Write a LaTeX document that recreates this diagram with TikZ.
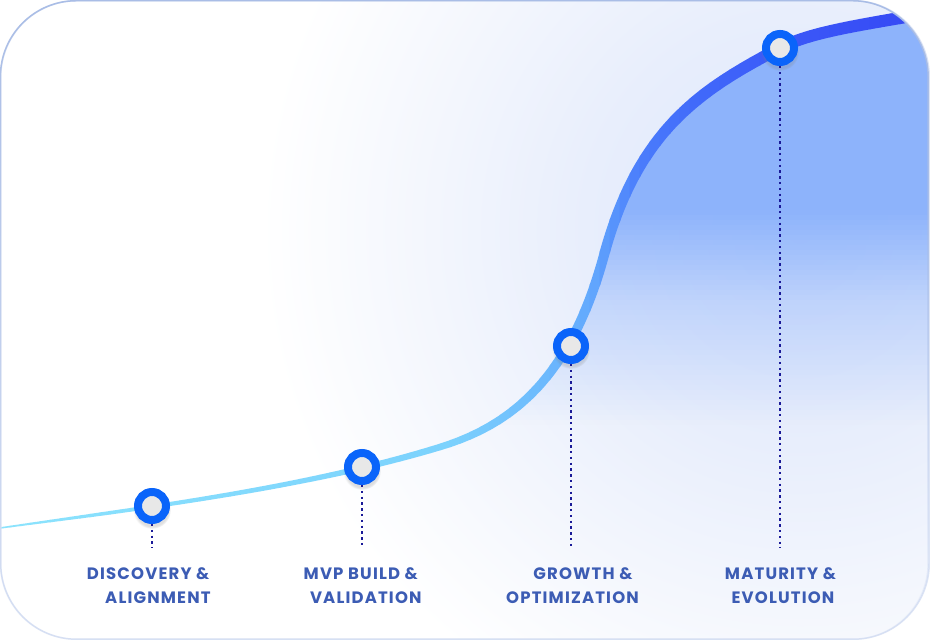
\documentclass[tikz,border=0pt]{standalone}
\usepackage{fontspec}
\setmainfont{Poppins}
\usetikzlibrary{fadings,shadows}

\definecolor{framec}{HTML}{A9BDE6}
\definecolor{framelight}{HTML}{DCE4F5}
\definecolor{glowA}{HTML}{DDE6FC}
\definecolor{glowB}{HTML}{E8EEFC}
\definecolor{glowC}{HTML}{F3F6FD}
\definecolor{fillblue}{HTML}{8DB3FB}
\definecolor{ringblue}{HTML}{0A64FA}
\definecolor{innergray}{HTML}{E8E8E8}
\definecolor{dotnavy}{HTML}{1A1A98}
\definecolor{labelc}{RGB}{60,92,180}

\pgfdeclareradialshading{glowsh}{\pgfpoint{0bp}{0bp}}{color(0bp)=(glowA); color(10bp)=(glowB); color(17bp)=(glowC); color(25bp)=(white); color(50bp)=(white)}

\tikzfading[name=framefade, top color=transparent!0, bottom color=transparent!90]

\def\framepath{(0.75,0.75) rectangle (929.25,639.25)}
\def\curvepath{(-5,111.3) .. controls (120,129) and (300,150) .. (440,193) .. controls (510,214.5) and (570,260) .. (604,385) .. controls (638,510) and (700,550) .. (780,592) .. controls (810,608) and (860,615) .. (935,628)}

\tikzset{
  marker/.style={circle, draw=ringblue, line width=8pt, fill=innergray, minimum size=28pt, inner sep=0pt,
    circular drop shadow={shadow xshift=0pt, shadow yshift=-3pt, shadow scale=1.35, opacity=0.25}},
  dotline/.style={dotnavy, line width=2pt, dash pattern=on 2.5pt off 3.3pt},
  lbl/.style={anchor=base, inner sep=0pt, text=labelc, font=\fontsize{16.5}{16.5}\selectfont\bfseries\addfontfeatures{LetterSpace=7}},
}

\begin{document}
\begin{tikzpicture}[x=1pt,y=1pt]
\useasboundingbox (0,0) rectangle (930,640);
\fill[white] (0,0) rectangle (930,640);
\begin{scope}
  \clip[rounded corners=76pt] \framepath;
  \fill[white] (0,0) rectangle (930,640);
  \shade[shading=glowsh] (800,410) circle (540);
  % blue area under the curve
  \begin{scope}
    \clip (440,193) .. controls (510,214.5) and (570,260) .. (604,385) .. controls (638,510) and (700,550) .. (780,592) .. controls (810,608) and (860,615) .. (935,628) -- (935,150) -- (440,150) -- cycle;
    \fill[fillblue] (0,430) rectangle (935,645);
    \foreach \j in {0,...,44}{
      \pgfmathsetmacro\ya{430-5*\j}
      \pgfmathsetmacro\yy{640-(\ya-2.5)}
      \pgfmathsetmacro\op{(\yy<300) ? (1-0.0065*(\yy-210)) : max(0,0.0033*(425-\yy))}
      \fill[fillblue, fill opacity=\op] (0,\ya-5) rectangle (935,\ya);
    }
  \end{scope}
  % curve in bands
  \foreach \i in {0,...,93}{
    \pgfmathsetmacro\xa{\i*10}
    \pgfmathsetmacro\xm{\xa+5}
    \pgfmathsetmacro\bw{1.5+0.02*\xm-0.0125*max(0,\xm-100)+0.0035*max(0,\xm-300)+0.011*max(0,\xm-440)-0.007*max(0,\xm-600)-0.012*max(0,\xm-700)}
    \pgfmathtruncatemacro\bandR{140-0.0356*\xm-0.1144*max(0,\xm-450)-0.05*max(0,\xm-530)-0.3*max(0,\xm-590)+0.333*max(0,\xm-640)+0.104*max(0,\xm-700)+0.021*max(0,\xm-780)}
    \pgfmathtruncatemacro\bandG{228-0.04*\xm-0.21*max(0,\xm-450)-0.083*max(0,\xm-530)-0.567*max(0,\xm-590)+0.567*max(0,\xm-640)+0.146*max(0,\xm-700)+0.0625*max(0,\xm-780)}
    \pgfmathtruncatemacro\bandB{253-0.025*max(0,\xm-600)}
    \definecolor{bandc}{RGB}{\bandR,\bandG,\bandB}
    \begin{scope}
      \clip (\xa-0.4,0) rectangle (\xa+10.4,640);
      \draw[line width=\bw pt, bandc] \curvepath;
    \end{scope}
  }
  % markers
  \node[marker] (m1) at (152,134) {};
  \node[marker] (m2) at (362,173) {};
  \node[marker] (m3) at (571,294) {};
  \node[marker] (m4) at (780,592) {};
  \coordinate (d1) at (152,92);
  \coordinate (d2) at (362,92);
  \coordinate (d3) at (571,92);
  \coordinate (d4) at (780,92);
  \draw[dotline] (m1.south) -- (d1);
  \draw[dotline] (m2.south) -- (d2);
  \draw[dotline] (m3.south) -- (d3);
  \draw[dotline] (m4.south) -- (d4);
\end{scope}
% labels
\node[lbl] (t1a) at (148.2,60) {DISCOVERY \&};
\node[lbl] (t1b) at (157.9,36) {ALIGNMENT};
\node[lbl] (t2a) at (360.8,60) {MVP BUILD \&};
\node[lbl] (t2b) at (365.8,36) {VALIDATION};
\node[lbl] (t3a) at (583,60) {GROWTH \&};
\node[lbl] (t3b) at (572.5,36) {OPTIMIZATION};
\node[lbl] (t4a) at (780.5,60) {MATURITY \&};
\node[lbl] (t4b) at (783,36) {EVOLUTION};
% frame
\draw[framelight, line width=1.5pt, rounded corners=76pt] \framepath;
\draw[framec, line width=1.5pt, rounded corners=76pt, path fading=framefade] \framepath;
\end{tikzpicture}
\end{document}
